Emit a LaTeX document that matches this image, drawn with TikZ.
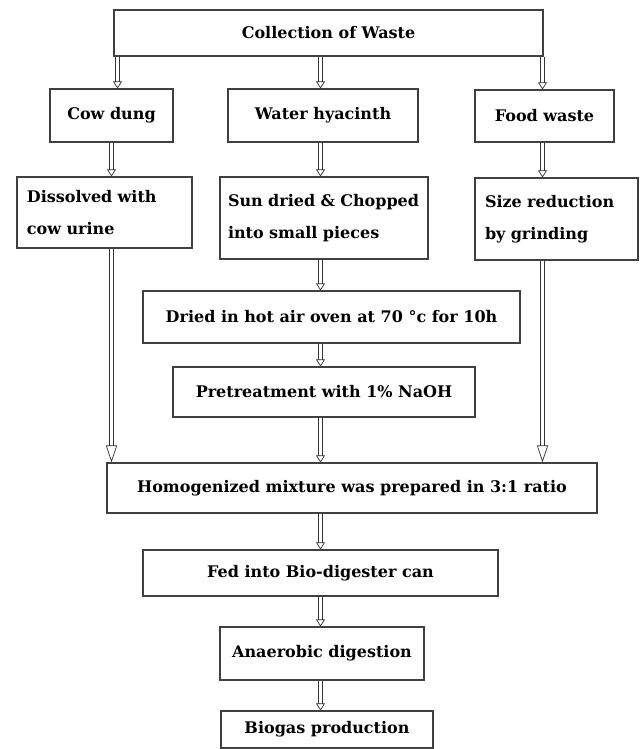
\documentclass[tikz,border=0pt]{standalone}
\usepackage{fontspec}
\setmainfont{DejaVu Serif}
\usetikzlibrary{arrows.meta, calc}

\begin{document}
\begin{tikzpicture}[x=1pt, y=-1pt, font=\fontsize{16}{32}\selectfont\bfseries]
	
	% --- styles ---
	\tikzset{
		box/.style={draw=black!75, line width=1.1pt, inner sep=10pt, minimum height=#1},
		box/.default=52,
		hollow/.style={draw=black!80, line width=0.7pt, double=white, double distance=3pt,
			-{Triangle[open, length=7pt, width=9pt]}},
		hollowlong/.style={hollow, -{Triangle[open, length=17pt, width=11pt]}}
	}
	\useasboundingbox (0,0) rectangle (644,749);
	
	% --- 1. Collection and the three wastes ---
	\node[box=46, minimum width=429] (coll) at (328.5,33) {Collection of Waste};
	\node[box=53, minimum width=123] (cow)  at (111.5,115.5) {Cow dung};
	\node[box=53, minimum width=190] (hya)  at (323,115.5) {Water hyacinth};
	\node[box=52, minimum width=139] (food) at (544.5,116) {Food waste};
	
	% --- 2. First treatment of each waste ---
	\node[box=71, minimum width=175, text width=155, align=left] (diss) at (104.5,212.5)
		{Dissolved with\\cow urine};
	\node[box=82, minimum width=208, inner xsep=8pt, text width=192, align=left] (sun) at (324,218)
		{Sun dried \& Chopped\\into small pieces};
	\node[box=82, minimum width=163, text width=143, align=left] (size) at (556.5,219)
		{Size reduction\\by grinding};
	
	% --- 3. Water hyacinth line ---
	\node[box=52, minimum width=377] (dried) at (331.5,317) {Dried in hot air oven at 70 °c for 10h};
	\node[box=50, minimum width=302] (pre) at (324,392) {Pretreatment with 1\% NaOH};
	
	% --- 4. Mixing and digestion ---
	\node[box=50, minimum width=490] (homog) at (352,488) {Homogenized mixture was prepared in 3:1 ratio};
	\node[box=46, minimum width=355] (fed) at (320.5,573) {Fed into Bio-digester can};
	\node[box=53, minimum width=204] (ana) at (322,653.5) {Anaerobic digestion};
	\node[box=37, minimum width=212] (bio) at (327,729.5) {Biogas production};
	
	% --- 5. Arrows ---
	\draw[hollow] ([xshift=6]coll.south -| cow.north) -- ([xshift=6]cow.north);
	\draw[hollow] (coll.south -| fed.north) -- (hya.north -| fed.north);
	\draw[hollow] ([xshift=-2]coll.south -| food.north) -- ([xshift=-2]food.north);
	
	\draw[hollow] (cow.south) -- (cow.south |- diss.north);
	\draw[hollow] (hya.south -| fed.north) -- (sun.north -| fed.north);
	\draw[hollow] ([xshift=-2]food.south) -- ([xshift=-2]food.south |- size.north);
	
	\draw[hollowlong] (cow.south |- diss.south) -- (cow.south |- homog.north);
	\draw[hollowlong] ([xshift=-2]food.south |- size.south) -- ([xshift=-2]food.south |- homog.north);
	
	\draw[hollow] (sun.south -| fed.north) -- (dried.north -| fed.north);
	\draw[hollow] (dried.south -| fed.north) -- (pre.north -| fed.north);
	\draw[hollow] (pre.south -| fed.north) -- (homog.north -| fed.north);
	\draw[hollow] (homog.south -| fed.north) -- (fed.north);
	\draw[hollow] (fed.south) -- (ana.north -| fed.south);
	\draw[hollow] (ana.south -| fed.south) -- (bio.north -| fed.south);
	
\end{tikzpicture}
\end{document}
